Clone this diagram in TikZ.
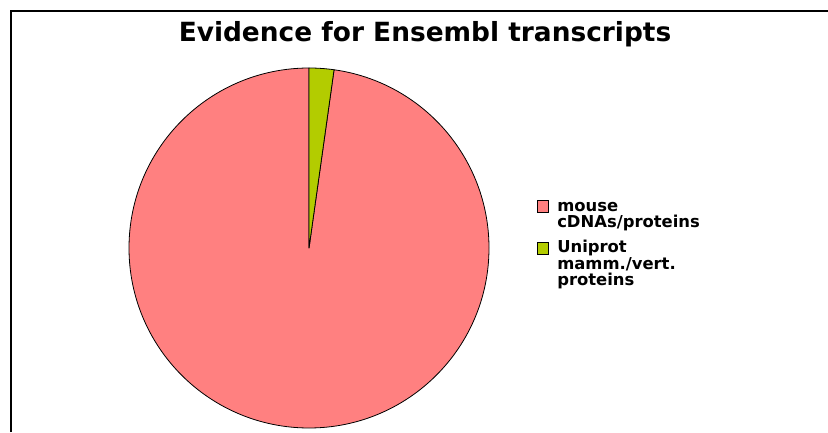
\documentclass[tikz,border=0pt]{standalone}
\usepackage{fontspec}
\setmainfont{DejaVu Sans}
\usepackage{tikz}
\usetikzlibrary{positioning}
\definecolor{MousePink}{HTML}{FF8080}
\definecolor{UniGreen}{HTML}{B3CC00}

\begin{document}
\begin{tikzpicture}[x=0.75pt, y=0.75pt,
    slice/.style={draw=black, line width=0.6pt, line join=round},
    keybox/.style={draw=black, line width=0.5pt, minimum size=8.6pt, inner sep=0pt},
    keytext/.style={align=left, inner sep=0pt, anchor=base west,
      font=\fontsize{12.3}{12.4}\selectfont\bfseries}]
  \useasboundingbox (0,0) rectangle (828,432);
  \draw[line width=1.2pt] (11,0) -- (11,421) -- (828,421);

  \node[anchor=base, inner sep=0pt, font=\fontsize{19.8}{22}\selectfont\bfseries]
    (title) at (425,390) {Evidence for Ensembl transcripts};

  \coordinate (ctr) at (309,184);
  \draw[slice, fill=MousePink] (ctr) -- ++(90:180) arc[start angle=90, end angle=442, radius=180] -- cycle;
  \draw[slice, fill=UniGreen] (ctr) -- ++(82:180) arc[start angle=82, end angle=90, radius=180] -- cycle;

  \node[keybox, fill=MousePink] (keyMouse) at (543,225.5) {};
  \node[keytext] (labMouse) at (557,204) {mouse\\cDNAs/proteins};
  \node[keybox, fill=UniGreen] (keyUni) at (543,183.5) {};
  \node[keytext] (labUni) at (557,146) {Uniprot\\mamm./vert.\\proteins};
\end{tikzpicture}
\end{document}
